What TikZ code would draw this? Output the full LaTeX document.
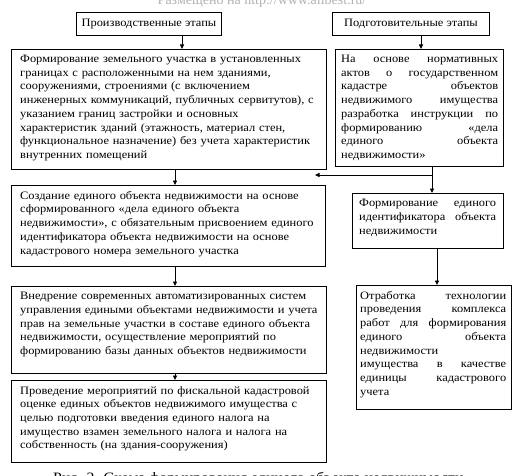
\documentclass[tikz,border=0pt]{standalone}
\usepackage{fontspec}
\setmainfont{Liberation Serif}
\newfontfamily\bodyf[FakeStretch=1.1]{Liberation Serif}
\usetikzlibrary{arrows.meta,calc}
\newcommand\jline[1]{{\spaceskip=0pt\xspaceskip=0pt\makebox[\hsize][s]{#1}}\\}
\tikzset{
  box/.style={draw, line width=0.9pt, anchor=north west, inner sep=0pt},
  bodyfont/.style={font=\bodyf\fontsize{11.3}{13.7}\selectfont},
  txt/.style={bodyfont, anchor=north west, inner sep=0pt, align=left},
  arr/.style={line width=0.8pt, -{Triangle[length=4.5pt,width=4pt]}}
}
\begin{document}
\begin{tikzpicture}[x=1pt,y=-1pt]
\clip (0,0) rectangle (519,476);
\fill[white] (0,0) rectangle (519,476);
% watermark
\node[font=\fontsize{14}{14}\selectfont, text=gray!60, anchor=base, inner sep=0pt] (wm) at (262,5) {Размещено на http://www.allbest.ru/};
% headers
\node[box, bodyfont, minimum width=145pt, minimum height=23pt] (h1) at (76,12) {Производственные этапы};
\node[box, bodyfont, minimum width=157pt, minimum height=23pt] (h2) at (332,12) {Подготовительные этапы};
% boxes
\node[box, minimum width=315pt, minimum height=120pt] (b1) at (11,49) {};
\node[txt, text width=330pt] (t1) at ($(b1.north west)+(9,6)$) {Формирование земельного участка в установленных\\
границах с расположенными на нем зданиями,\\
сооружениями, строениями (с включением\\
инженерных коммуникаций, публичных сервитутов), с\\
указанием границ застройки и основных\\
характеристик зданий (этажность, материал стен,\\
функциональное назначение) без учета характеристик\\
внутренних помещений};
\node[box, minimum width=168pt, minimum height=117pt] (b2) at (335,49) {};
\node[txt, text width=157pt] (t2) at ($(b2.north west)+(6,6)$) {\jline{На основе нормативных}
\jline{актов о государственном}
\jline{кадастре объектов}
\jline{недвижимого имущества}
\jline{разработка инструкции по}
\jline{формированию «дела}
\jline{единого объекта}
недвижимости»};
\node[box, minimum width=314pt, minimum height=81pt] (b3) at (11,185) {};
\node[txt, text width=330pt] (t3) at ($(b3.north west)+(9,6)$) {Создание единого объекта недвижимости на основе\\
сформированного «дела единого объекта\\
недвижимости», с обязательным присвоением единого\\
идентификатора объекта недвижимости на основе\\
кадастрового номера земельного участка};
\node[box, minimum width=151pt, minimum height=55pt] (b5) at (352,193) {};
\node[txt, text width=137pt] (t5) at ($(b5.north west)+(7,6)$) {\jline{Формирование единого}
\jline{идентификатора объекта}
недвижимости};
\node[box, minimum width=315pt, minimum height=87pt] (b4) at (11,286) {};
\node[txt, text width=330pt] (t4) at ($(b4.north west)+(9,6)$) {Внедрение современных автоматизированных систем\\
управления едиными объектами недвижимости и учета\\
прав на земельные участки в составе единого объекта\\
недвижимости, осуществление мероприятий по\\
формированию базы данных объектов недвижимости};
\node[box, minimum width=155pt, minimum height=124pt] (b6) at (356,285) {};
\node[txt, text width=146pt] (t6) at ($(b6.north west)+(4,6)$) {\jline{Отработка технологии}
\jline{проведения комплекса}
\jline{работ для формирования}
\jline{единого объекта}
недвижимости\\
\jline{имущества в качестве}
\jline{единицы кадастрового}
учета};
\node[box, minimum width=315pt, minimum height=82pt] (b7) at (11,380) {};
\node[txt, text width=330pt] (t7) at ($(b7.north west)+(9,6)$) {Проведение мероприятий по фискальной кадастровой\\
оценке единых объектов недвижимого имущества с\\
целью подготовки введения единого налога на\\
имущество взамен земельного налога и налога на\\
собственность (на здания-сооружения)};
% caption (cut by the bottom edge)
\node[font=\bodyf\fontsize{14.3}{14.3}\selectfont, anchor=base west, inner sep=0pt] (cap) at (53,482.5) {Рис. 2. Схема формирования единого объекта недвижимости};
% connectors
\coordinate (xa) at (182,0);
\coordinate (xb) at (421,0);
\coordinate (xc) at (175,0);
\coordinate (xd) at (432,0);
\coordinate (xe) at (437,0);
\coordinate (j) at (432,175);
\coordinate (e) at (315,175);
\draw[arr] (h1.south -| xa) -- (b1.north -| xa);
\draw[arr] (h2.south -| xb) -- (b2.north -| xb);
\draw[arr] (b1.south -| xc) -- (b3.north -| xc);
\draw[arr] (b3.south -| xc) -- (b4.north -| xc);
\draw[arr] (b4.south -| xc) -- (b7.north -| xc);
\draw[arr] (b2.south -| xd) -- (b5.north -| xd);
\draw[arr] (j) -- (e);
\draw[arr] (b5.south -| xe) -- (b6.north -| xe);
\end{tikzpicture}
\end{document}
